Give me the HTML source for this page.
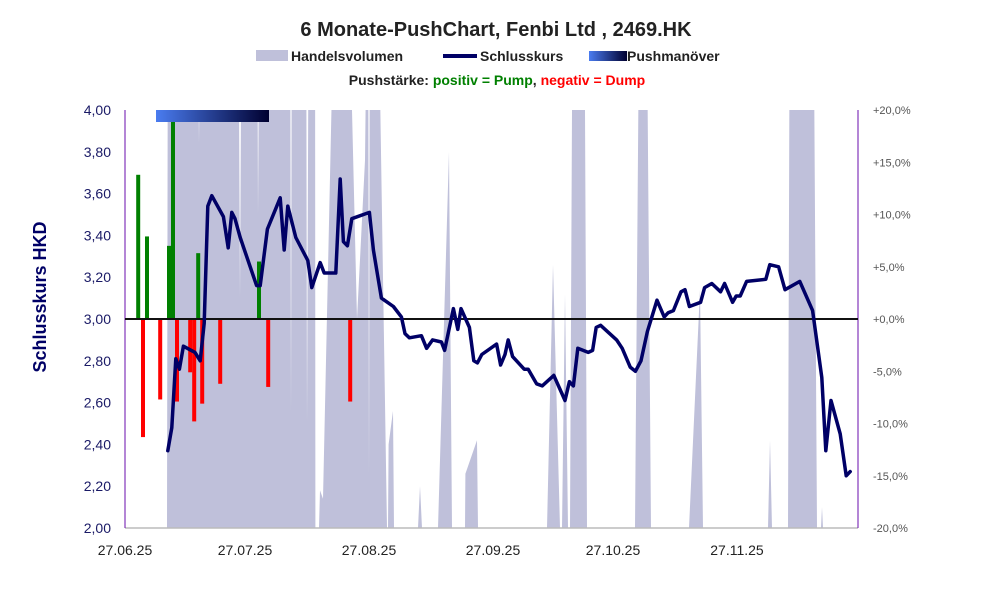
<!DOCTYPE html>
<html><head><meta charset="utf-8"><style>
body{margin:0;background:#fff;}
svg{display:block;font-family:"Liberation Sans",sans-serif;}
</style></head><body>
<svg id="chart" width="991" height="593" viewBox="0 0 991 593">
<defs>
<linearGradient id="pg" x1="0" x2="1" y1="0" y2="0"><stop offset="0" stop-color="#4a7cf0"/><stop offset="1" stop-color="#000030"/></linearGradient>
<clipPath id="plotclip"><rect x="125" y="110" width="733" height="418"/></clipPath>
</defs>
<text x="496" y="36" text-anchor="middle" font-size="20" font-weight="bold" fill="#222">6 Monate-PushChart, Fenbi Ltd , 2469.HK</text>
<g>
<g><rect x="256" y="50" width="32" height="11" fill="#bfc0da"/><text x="291" y="61" font-size="14" font-weight="bold" fill="#222">Handelsvolumen</text></g>
<g><line x1="443" y1="56" x2="477" y2="56" stroke="#000066" stroke-width="4"/><text x="480" y="61" font-size="14" font-weight="bold" fill="#222">Schlusskurs</text></g>
<g><rect x="589" y="51" width="38" height="10" fill="url(#pg)"/><text x="627" y="61" font-size="14" font-weight="bold" fill="#222">Pushmanöver</text></g>
</g>
<text x="497" y="85" text-anchor="middle" font-size="14" font-weight="bold"><tspan fill="#222">Pushstärke:  </tspan><tspan fill="#008000">positiv = Pump</tspan><tspan fill="#222">,  </tspan><tspan fill="#ff0000">negativ = Dump</tspan></text>
<text transform="translate(46,297) rotate(-90)" text-anchor="middle" font-size="18" font-weight="bold" fill="#000066">Schlusskurs HKD</text>
<g id="vol" clip-path="url(#plotclip)"></g>
<g id="bars"></g>
<g id="axes"></g>
<g id="line"></g>
</svg>
<script>
const volDays=[10.5,10.75,18,18.5,19,28.25,28.75,29.25,33,33.25,33.75,41.25,41.5,41.75,45.25,45.5,46,47.5,47.6,48.5,48.75,49.5,52.75,55.5,58,60,60.75,61,61.25,63,65.5,65.75,65.9,67,67.25,73.25,73.75,74.25,78.25,81,81.75,85,85.1,88,88.25,105.5,107,108.75,109.25,110,110.75,111.25,112,114.75,115.5,127.5,128.75,130.25,131.5,141,143.75,144.5,160.75,161.25,161.75,165.75,166.25,172,173,174,174.25,174.5,183.25];
const volVals=[0,150,150,92,150,150,55,150,150,75,150,150,27,150,150,25,150,150,0,0,9,7,150,150,50,88,150,12,150,150,0,0,20,28,0,0,10,0,0,90,0,0,13,21,0,0,63,0,0,56,0,0,150,150,0,0,150,150,0,0,57,0,0,21,0,0,150,150,0,0,5,0,0];
const pxDays=[10.7,11.7,12.7,13.6,14.6,17.5,18.8,19.8,20.7,21.7,24.6,25.8,26.7,27.5,28.8,32.9,33.8,35.6,38.8,39.8,40.7,42.7,45.7,46.7,48.8,49.8,52.7,53.8,54.6,55.6,56.7,61.1,62.1,63.4,64.1,67.1,69.1,70,71.1,74.1,75.4,76.9,79.1,79.9,82.1,83.2,84,86.1,87.2,88.1,89.2,92.9,93.9,95,95.8,96.9,99.8,100.8,102.9,104.3,107.2,110,111.1,112.1,113.2,115.8,116.9,117.8,118.9,122.9,124.3,126.3,127.6,129,130.6,133,134.8,135.8,137.1,139,140,141.1,143.9,144.9,146.7,148.9,149.9,151.9,152.8,153.8,155.4,160.2,161.2,163.4,165,168.7,171.9,174.2,175.2,176.5,178.8,180.3,181.3];
const pxVals=[2.37,2.48,2.81,2.76,2.87,2.84,2.80,2.98,3.54,3.59,3.49,3.34,3.51,3.48,3.39,3.16,3.16,3.43,3.58,3.33,3.54,3.39,3.28,3.15,3.27,3.22,3.22,3.67,3.37,3.35,3.48,3.51,3.33,3.18,3.10,3.06,3.01,2.93,2.91,2.92,2.86,2.90,2.89,2.85,3.05,2.95,3.05,2.96,2.80,2.79,2.83,2.88,2.78,2.83,2.90,2.82,2.76,2.76,2.69,2.68,2.73,2.61,2.70,2.68,2.86,2.84,2.85,2.96,2.97,2.90,2.86,2.77,2.75,2.80,2.94,3.09,3.01,3.03,3.04,3.13,3.14,3.06,3.08,3.15,3.17,3.13,3.17,3.08,3.11,3.11,3.18,3.19,3.26,3.25,3.14,3.18,3.04,2.72,2.37,2.61,2.45,2.25,2.27,2.23,2.19,2.15,2.19];
const pushDays=[2.8,5,4,8.3,10.5,11.5,12.5,15.8,16.8,17.8,18.8,23.3,33,35.3,55.8];
const pushVals=[13.8,7.9,-11.3,-7.7,7.0,19.4,-7.9,-5.1,-9.8,6.3,-8.1,-6.2,5.5,-6.5,-7.9];
const pushZoneDays=[7.75,36];
const yTicks=["4,00","3,80","3,60","3,40","3,20","3,00","2,80","2,60","2,40","2,20","2,00"];
const yTickVals=[4,3.8,3.6,3.4,3.2,3,2.8,2.6,2.4,2.2,2];
const y2Ticks=["+20,0%","+15,0%","+10,0%","+5,0%","+0,0%","-5,0%","-10,0%","-15,0%","-20,0%"];
const y2TickVals=[20,15,10,5,0,-5,-10,-15,-20];
const xTicks=["27.06.25","27.07.25","27.08.25","27.09.25","27.10.25","27.11.25"];
const xTickDays=[0,30,61,92,122,153];

const L=125,R=858,T=110,B=528;
const xs=d=>L+d*4.0;
const ys=v=>B-(v-2)/2*(B-T);
const yp=p=>319-p*(B-T)/40;
const yv=v=>B-v/100*(B-T);
const NS="http://www.w3.org/2000/svg";
function mk(tag,parent,attrs){const e=document.createElementNS(NS,tag);for(const k in attrs)e.setAttribute(k,attrs[k]);parent.appendChild(e);return e;}

const vg=document.getElementById('vol');
let d="M"+xs(volDays[0])+","+B;
volDays.forEach((dd,i)=>{d+=" L"+xs(dd).toFixed(1)+","+yv(volVals[i]).toFixed(1);});
d+=" L"+xs(volDays[volDays.length-1])+","+B+" Z";
const va=mk('path',vg,{d:d,fill:'#bfc0da'});



const bg=document.getElementById('bars');
pushDays.forEach((dd,i)=>{const v=pushVals[i];const y0=yp(0),y1=yp(v);
const r=mk('rect',bg,{x:xs(dd),y:Math.min(y0,y1),width:4,height:Math.abs(y1-y0),fill:v>=0?'#008000':'#ff0000'});

});
const pz=mk('rect',bg,{x:xs(pushZoneDays[0]),y:110,width:xs(pushZoneDays[1])-xs(pushZoneDays[0]),height:12,fill:'url(#pg)'});



const ag=document.getElementById('axes');
const bl=mk('line',ag,{x1:L,y1:B,x2:R,y2:B,stroke:'#bbb','stroke-width':1.5});


const ll=mk('line',ag,{x1:L,y1:T,x2:L,y2:B,stroke:'#6a0dad','stroke-width':1});


const rl=mk('line',ag,{x1:R,y1:T,x2:R,y2:B,stroke:'#6a0dad','stroke-width':1});


const zl=mk('line',ag,{x1:L,y1:319,x2:R,y2:319,stroke:'#111','stroke-width':2});


yTicks.forEach((t,i)=>{const e=mk('text',ag,{x:111,y:ys(yTickVals[i])+5,'text-anchor':'end','font-size':14,fill:'#1a1a66'});e.textContent=t;

});
y2Ticks.forEach((t,i)=>{const e=mk('text',ag,{x:873,y:yp(y2TickVals[i])+4,'font-size':11,fill:'#555'});e.textContent=t;

});
xTicks.forEach((t,i)=>{const e=mk('text',ag,{x:xs(xTickDays[i]),y:555,'text-anchor':'middle','font-size':14,fill:'#222'});e.textContent=t;

});

const lg=document.getElementById('line');
const pts=pxDays.map((dd,i)=>xs(dd).toFixed(1)+","+ys(pxVals[i]).toFixed(1)).join(" ");
const pl=mk('polyline',lg,{points:pts,fill:'none',stroke:'#000066','stroke-width':3.5,'stroke-linejoin':'round','stroke-linecap':'round'});


</script>
</body></html>
